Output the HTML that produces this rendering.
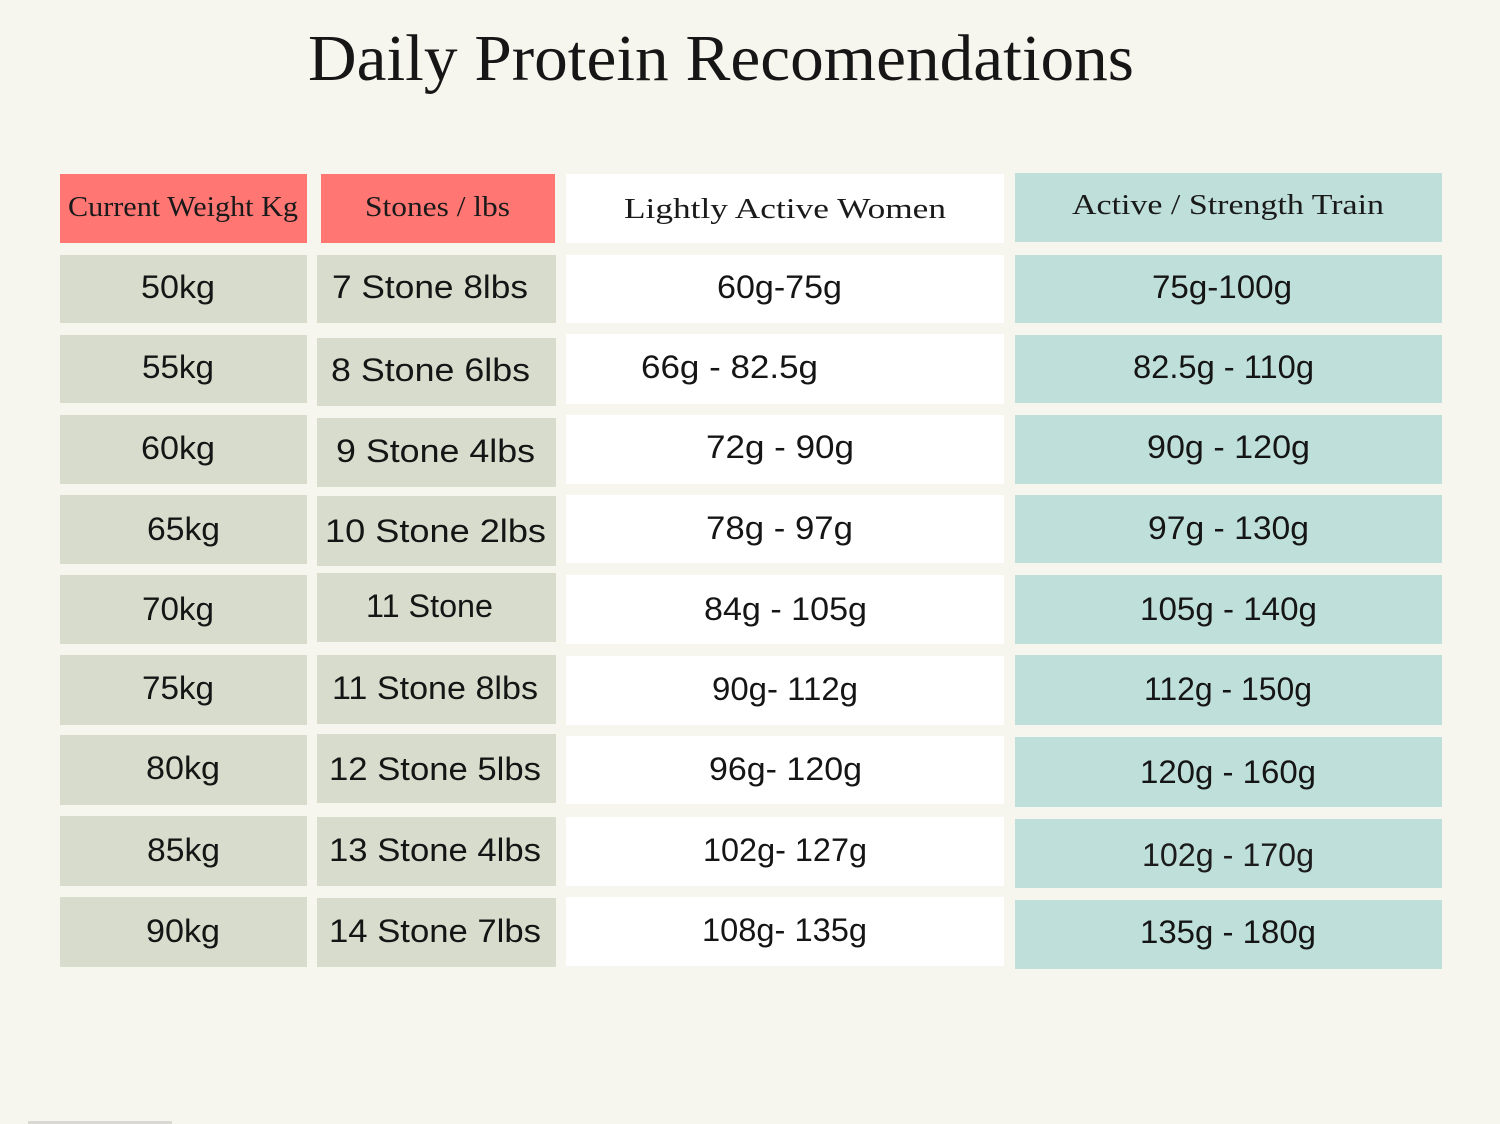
<!DOCTYPE html>
<html><head><meta charset="utf-8"><style>
html,body{margin:0;padding:0;background:#f6f5ee;}
svg{display:block}
.t{font-family:"Liberation Serif",serif;fill:#161616;}
.s{font-family:"Liberation Sans",sans-serif;fill:#151515;font-size:32px;}
.h{font-family:"Liberation Serif",serif;fill:#1a1a1a;font-size:29px;}
</style></head><body>
<svg width="1500" height="1124" viewBox="0 0 1500 1124" xmlns="http://www.w3.org/2000/svg">
<rect x="0" y="0" width="1500" height="1124" fill="#f6f5ee"/>
<text class="t" x="308" y="80" font-size="66" textLength="826" lengthAdjust="spacingAndGlyphs">Daily Protein Recomendations</text>

<!-- headers -->
<rect x="60" y="174" width="247" height="69" fill="#ff7673"/>
<rect x="321" y="174" width="234" height="69" fill="#ff7673"/>
<rect x="566" y="174" width="438" height="69" fill="#ffffff"/>
<rect x="1015" y="173" width="427" height="69" fill="#bfe0da"/>
<text class="h" x="68" y="216" textLength="230" lengthAdjust="spacingAndGlyphs">Current Weight Kg</text>
<text class="h" x="365" y="216" textLength="145" lengthAdjust="spacingAndGlyphs">Stones / lbs</text>
<text class="h" x="624" y="218" textLength="322" lengthAdjust="spacingAndGlyphs">Lightly Active Women</text>
<text class="h" x="1072" y="214" textLength="312" lengthAdjust="spacingAndGlyphs">Active / Strength Train</text>

<!-- col1 -->
<g fill="#d8dccd">
<rect x="60" y="255" width="247" height="68"/>
<rect x="60" y="335" width="247" height="68"/>
<rect x="60" y="415" width="247" height="69"/>
<rect x="60" y="495" width="247" height="69"/>
<rect x="60" y="575" width="247" height="69"/>
<rect x="60" y="655" width="247" height="70"/>
<rect x="60" y="735" width="247" height="70"/>
<rect x="60" y="816" width="247" height="70"/>
<rect x="60" y="897" width="247" height="70"/>
</g>
<!-- col2 -->
<g fill="#d8dccd">
<rect x="317" y="255" width="239" height="68"/>
<rect x="317" y="338" width="239" height="68"/>
<rect x="317" y="418" width="239" height="69"/>
<rect x="317" y="496" width="239" height="70"/>
<rect x="317" y="573" width="239" height="69"/>
<rect x="317" y="655" width="239" height="69"/>
<rect x="317" y="734" width="239" height="69"/>
<rect x="317" y="817" width="239" height="69"/>
<rect x="317" y="898" width="239" height="69"/>
</g>
<!-- col3 -->
<g fill="#ffffff">
<rect x="566" y="255" width="438" height="68"/>
<rect x="566" y="334" width="438" height="70"/>
<rect x="566" y="415" width="438" height="69"/>
<rect x="566" y="495" width="438" height="68"/>
<rect x="566" y="575" width="438" height="69"/>
<rect x="566" y="656" width="438" height="69"/>
<rect x="566" y="736" width="438" height="68"/>
<rect x="566" y="817" width="438" height="69"/>
<rect x="566" y="897" width="438" height="69"/>
</g>
<!-- col4 -->
<g fill="#bfe0da">
<rect x="1015" y="255" width="427" height="68"/>
<rect x="1015" y="335" width="427" height="68"/>
<rect x="1015" y="415" width="427" height="69"/>
<rect x="1015" y="495" width="427" height="68"/>
<rect x="1015" y="575" width="427" height="69"/>
<rect x="1015" y="655" width="427" height="70"/>
<rect x="1015" y="737" width="427" height="70"/>
<rect x="1015" y="819" width="427" height="69"/>
<rect x="1015" y="900" width="427" height="69"/>
</g>

<!-- col1 text -->
<text class="s" x="141" y="298" textLength="74" lengthAdjust="spacingAndGlyphs">50kg</text>
<text class="s" x="142" y="378" textLength="72" lengthAdjust="spacingAndGlyphs">55kg</text>
<text class="s" x="141" y="459" textLength="74" lengthAdjust="spacingAndGlyphs">60kg</text>
<text class="s" x="147" y="540" textLength="73" lengthAdjust="spacingAndGlyphs">65kg</text>
<text class="s" x="142" y="620" textLength="72" lengthAdjust="spacingAndGlyphs">70kg</text>
<text class="s" x="142" y="699" textLength="72" lengthAdjust="spacingAndGlyphs">75kg</text>
<text class="s" x="146" y="779" textLength="74" lengthAdjust="spacingAndGlyphs">80kg</text>
<text class="s" x="147" y="861" textLength="73" lengthAdjust="spacingAndGlyphs">85kg</text>
<text class="s" x="146" y="942" textLength="74" lengthAdjust="spacingAndGlyphs">90kg</text>

<!-- col2 text -->
<text class="s" x="332" y="298" textLength="196" lengthAdjust="spacingAndGlyphs">7 Stone 8lbs</text>
<text class="s" x="331" y="381" textLength="199" lengthAdjust="spacingAndGlyphs">8 Stone 6lbs</text>
<text class="s" x="336" y="462" textLength="199" lengthAdjust="spacingAndGlyphs">9 Stone 4lbs</text>
<text class="s" x="325" y="542" textLength="221" lengthAdjust="spacingAndGlyphs">10 Stone 2lbs</text>
<text class="s" x="366" y="617" textLength="127" lengthAdjust="spacingAndGlyphs">11 Stone</text>
<text class="s" x="332" y="699" textLength="206" lengthAdjust="spacingAndGlyphs">11 Stone 8lbs</text>
<text class="s" x="329" y="780" textLength="212" lengthAdjust="spacingAndGlyphs">12 Stone 5lbs</text>
<text class="s" x="329" y="861" textLength="212" lengthAdjust="spacingAndGlyphs">13 Stone 4lbs</text>
<text class="s" x="329" y="942" textLength="212" lengthAdjust="spacingAndGlyphs">14 Stone 7lbs</text>

<!-- col3 text -->
<text class="s" x="717" y="298" textLength="125" lengthAdjust="spacingAndGlyphs">60g-75g</text>
<text class="s" x="641" y="378" textLength="177" lengthAdjust="spacingAndGlyphs">66g - 82.5g</text>
<text class="s" x="706" y="458" textLength="148" lengthAdjust="spacingAndGlyphs">72g - 90g</text>
<text class="s" x="706" y="539" textLength="147" lengthAdjust="spacingAndGlyphs">78g - 97g</text>
<text class="s" x="704" y="620" textLength="163" lengthAdjust="spacingAndGlyphs">84g - 105g</text>
<text class="s" x="712" y="700" textLength="146" lengthAdjust="spacingAndGlyphs">90g- 112g</text>
<text class="s" x="709" y="780" textLength="153" lengthAdjust="spacingAndGlyphs">96g- 120g</text>
<text class="s" x="703" y="861" textLength="164" lengthAdjust="spacingAndGlyphs">102g- 127g</text>
<text class="s" x="702" y="941" textLength="165" lengthAdjust="spacingAndGlyphs">108g- 135g</text>

<!-- col4 text -->
<text class="s" x="1152" y="298" textLength="140" lengthAdjust="spacingAndGlyphs">75g-100g</text>
<text class="s" x="1133" y="378" textLength="181" lengthAdjust="spacingAndGlyphs">82.5g - 110g</text>
<text class="s" x="1147" y="458" textLength="163" lengthAdjust="spacingAndGlyphs">90g - 120g</text>
<text class="s" x="1148" y="539" textLength="161" lengthAdjust="spacingAndGlyphs">97g - 130g</text>
<text class="s" x="1140" y="620" textLength="177" lengthAdjust="spacingAndGlyphs">105g - 140g</text>
<text class="s" x="1144" y="700" textLength="168" lengthAdjust="spacingAndGlyphs">112g - 150g</text>
<text class="s" x="1140" y="783" textLength="176" lengthAdjust="spacingAndGlyphs">120g - 160g</text>
<text class="s" x="1142" y="866" textLength="172" lengthAdjust="spacingAndGlyphs" style="fill:#1c1c1c">102g - 170g</text>
<text class="s" x="1140" y="943" textLength="176" lengthAdjust="spacingAndGlyphs">135g - 180g</text>

<!-- faint bottom-left edge -->
<rect x="28" y="1121" width="144" height="3" fill="#d9d8d2"/>
</svg>
</body></html>
